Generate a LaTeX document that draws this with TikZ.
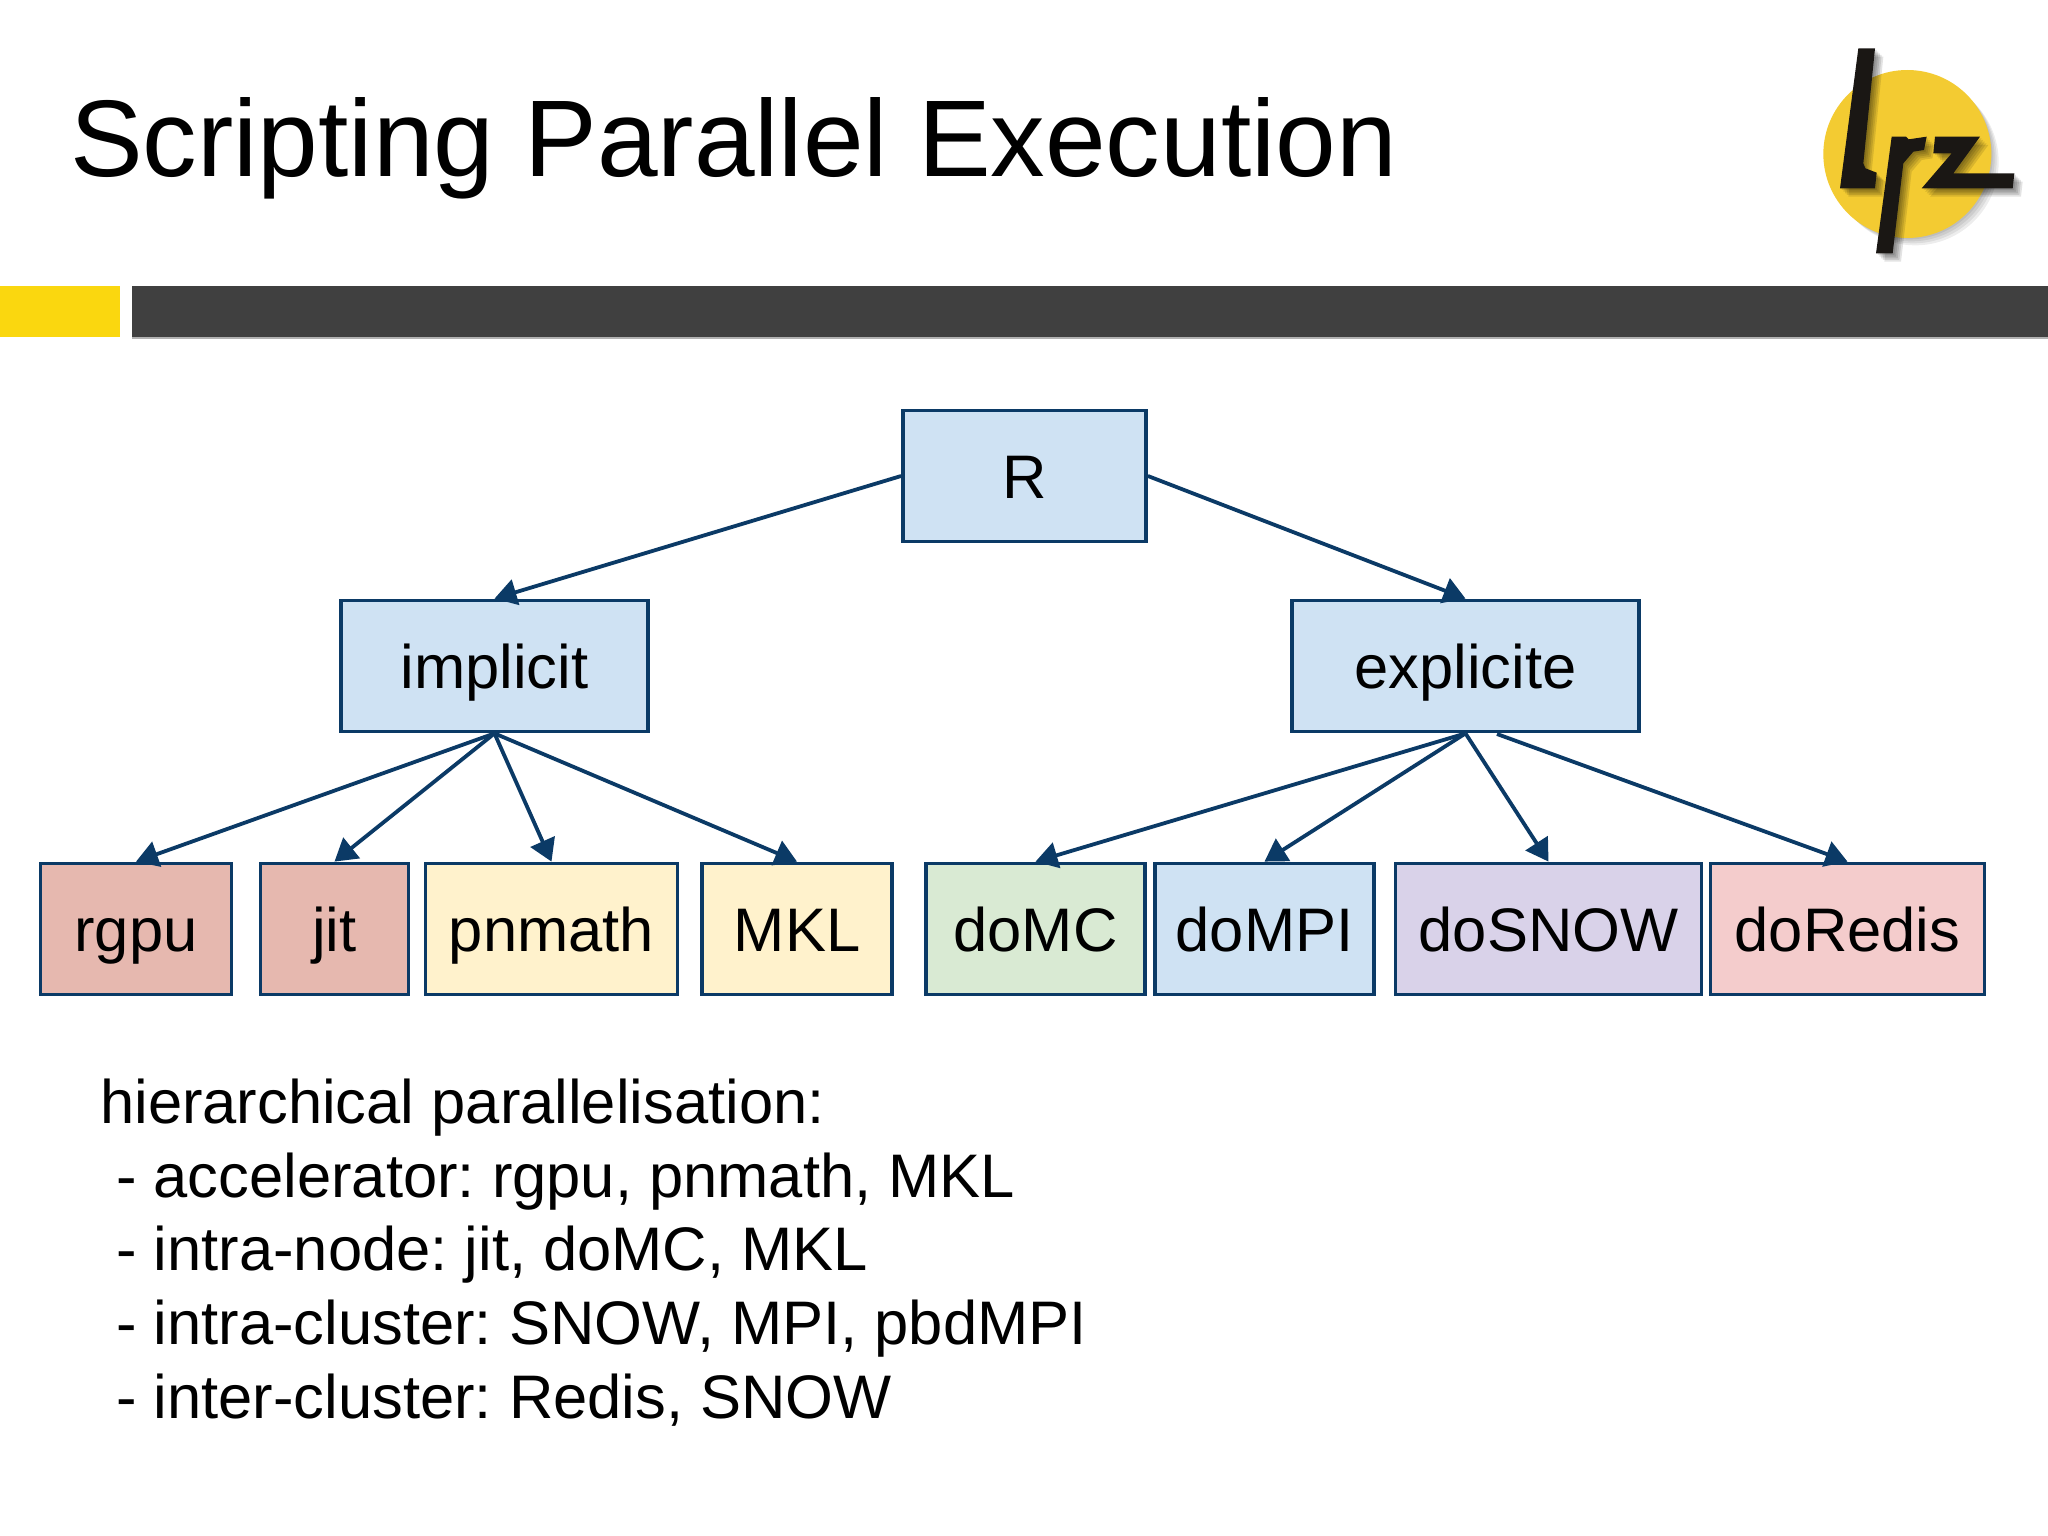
\documentclass[tikz,border=0pt]{standalone}
\usepackage{fontspec}
\setmainfont{Liberation Sans}
\usetikzlibrary{arrows.meta}
\definecolor{edgeblue}{HTML}{0B3A66}
\definecolor{fblue}{HTML}{CFE2F3}
\definecolor{fred}{HTML}{E6B8AF}
\definecolor{fyellow}{HTML}{FFF2CC}
\definecolor{fgreen}{HTML}{D9EAD3}
\definecolor{fpurple}{HTML}{D9D2E9}
\definecolor{fpink}{HTML}{F4CCCC}
\definecolor{barY}{HTML}{FAD70F}
\definecolor{barD}{HTML}{404040}
\definecolor{logoY}{HTML}{F3CB32}
\definecolor{logoK}{HTML}{1A1714}
\tikzset{
  box/.style={draw=edgeblue,line width=3.8pt,rectangle,inner sep=0pt,minimum height=131pt,text height=45pt,text depth=0pt,font=\fontsize{61.5}{61.5}\selectfont,text=black},
  link/.style={draw=edgeblue,line width=3.8pt,-{Triangle[length=22pt,width=26pt,fill=edgeblue]}},
}
\newcommand{\lrzshapes}{%
  \fill (235,85)--(285,85)--(250,430)--(256,445)--(290,458)--(285,505)--(180,505)--cycle;
  \fill (335,350)--(378,350)--(386,358)--(440,350)--(432,390)--(400,395)--(370,430)--(338,700)--(288,700)--cycle;
  \fill (465,350)--(600,350)--(520,460)--(703,460)--(698,505)--(425,505)--(515,400)--(460,400)--cycle;
}
\begin{document}
\begin{tikzpicture}[x=1pt,y=-1pt]
\useasboundingbox (0,0) rectangle (2048,1536);
\fill[white] (0,0) rectangle (2048,1536);
% header
\node[anchor=base west,inner sep=0pt,font=\fontsize{109}{109}\selectfont] (title) at (70,176) {Scripting Parallel Execution};
\fill[barY] (0,286) rectangle (120,337);
\fill[black!30] (132,287) rectangle (2048,339);
\fill[barD] (132,286) rectangle (2048,337);
% logo
\begin{scope}[shift={(1780,20)},x=0.33333pt,y=-0.33333pt]
  \foreach \d in {6,12,18,24}{
    \fill[black,opacity=0.07] (382+\d,402+\d) circle[radius=250];
  }
  \fill[logoY] (382,402) circle[radius=252];
  \foreach \d in {5,10,15,20,25}{
    \begin{scope}[shift={(\d,\d)},black,opacity=0.11]\lrzshapes\end{scope}
  }
  \begin{scope}[logoK]\lrzshapes\end{scope}
\end{scope}
% nodes
\node[box,fill=fblue,minimum width=243pt] (R) at (1024.5,476) {R};
\node[box,fill=fblue,minimum width=307pt] (implicit) at (494.5,666) {implicit};
\node[box,fill=fblue,minimum width=347pt] (explicite) at (1465.5,666) {explicite};
\node[box,fill=fred,minimum width=191pt] (rgpu) at (136,929) {rgpu};
\node[box,fill=fred,minimum width=148pt] (jit) at (334.5,929) {jit};
\node[box,fill=fyellow,minimum width=252pt] (pnmath) at (551.5,929) {pnmath};
\node[box,fill=fyellow,minimum width=190pt] (MKL) at (797,929) {MKL};
\node[box,fill=fgreen,minimum width=219pt] (doMC) at (1035.5,929) {doMC};
\node[box,fill=fblue,minimum width=219pt] (doMPI) at (1264.5,929) {doMPI};
\node[box,fill=fpurple,minimum width=306pt] (doSNOW) at (1548.5,929) {doSNOW};
\node[box,fill=fpink,minimum width=274pt] (doRedis) at (1847.5,929) {doRedis};
\coordinate (exr) at (1497,734);
% connectors
\draw[link] (R.west) -- (implicit.north);
\draw[link] (R.east) -- (explicite.north);
\draw[link] (implicit.south) -- (rgpu.north);
\draw[link] (implicit.south) -- (jit.north);
\draw[link] (implicit.south) -- (pnmath.north);
\draw[link] (implicit.south) -- (MKL.north);
\draw[link] (explicite.south) -- (doMC.north);
\draw[link] (explicite.south) -- (doMPI.north);
\draw[link] (explicite.south) -- (doSNOW.north);
\draw[link] (exr) -- (doRedis.north);
% text
\node[anchor=base west,inner sep=0pt,align=left,font=\fontsize{61.5}{73.6}\selectfont\frenchspacing] (body) at (100,1418) {hierarchical parallelisation:\\
\hspace*{16pt}\frenchspacing - accelerator: rgpu, pnmath, MKL\\
\hspace*{16pt}\frenchspacing - intra-node: jit, doMC, MKL\\
\hspace*{16pt}\frenchspacing - intra-cluster: SNOW, MPI, pbdMPI\\
\hspace*{16pt}\frenchspacing - inter-cluster: Redis, SNOW};
\end{tikzpicture}
\end{document}
